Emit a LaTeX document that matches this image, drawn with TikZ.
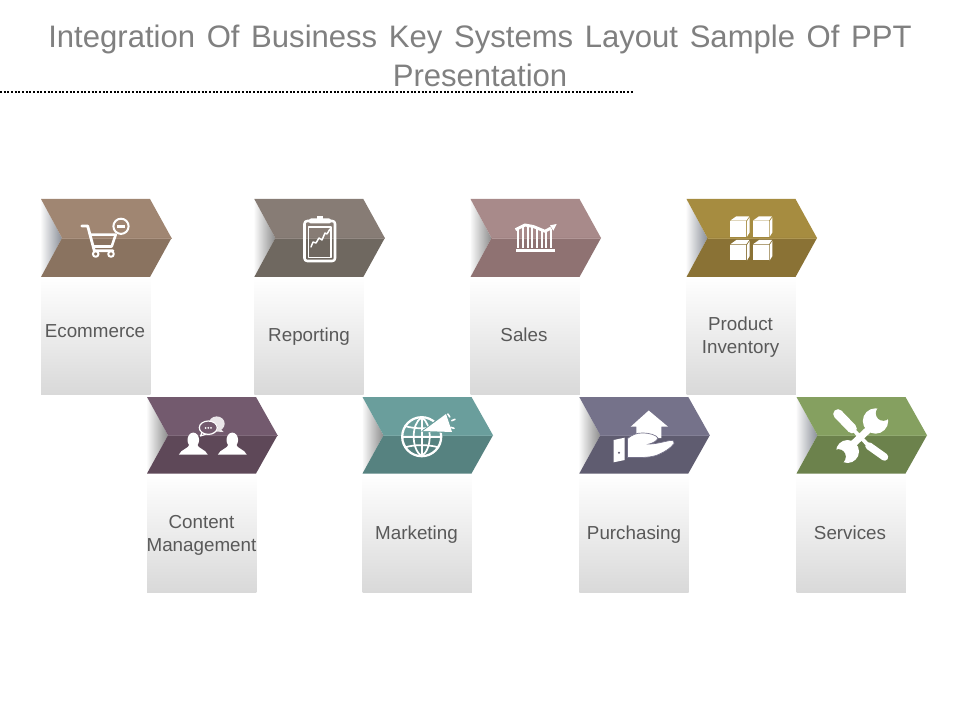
\documentclass[tikz,border=0pt]{standalone}
\usepackage{fontspec}
\setmainfont{Liberation Sans}
\newfontfamily\titlefont[WordSpace=1.35]{Liberation Sans}
\definecolor{titlegray}{HTML}{808080}
\definecolor{labelgray}{HTML}{595959}
\definecolor{ecoT}{HTML}{A08672}\definecolor{ecoB}{HTML}{8A7360}
\definecolor{repT}{HTML}{877C75}\definecolor{repB}{HTML}{6F6860}
\definecolor{salT}{HTML}{A88A8A}\definecolor{salB}{HTML}{8F7272}
\definecolor{proT}{HTML}{A68C40}\definecolor{proB}{HTML}{8A7235}
\definecolor{conT}{HTML}{735A6E}\definecolor{conB}{HTML}{5E4858}
\definecolor{marT}{HTML}{6A9E9C}\definecolor{marB}{HTML}{568280}
\definecolor{purT}{HTML}{75728A}\definecolor{purB}{HTML}{5F5C70}
\definecolor{serT}{HTML}{85A060}\definecolor{serB}{HTML}{6C824C}
\definecolor{notchA}{HTML}{8A8F98}\definecolor{notchB}{HTML}{8C8C8C}
\tikzset{
  labeltext/.style={text=labelgray,font=\fontsize{14.1}{17.25}\selectfont,align=center,inner sep=0pt},
  titletext/.style={text=titlegray,font=\titlefont\fontsize{23.3}{29.2}\selectfont,align=center,inner sep=0pt},
  ics/.style={draw=white,line width=#1,line cap=round,line join=round},
  ics/.default=1.2pt
}
\newcommand{\chevronbox}[6]{%
  \begin{scope}[shift={(#1,#2)}]
    \shade[top color=white,bottom color=black!15] (0,#3) rectangle (109.4,195.5);
    \shade[left color=black!2,right color=#6] (0,0) -- (21,#3/2) -- (0,#3) -- cycle;
    \fill[#4] (0,0) -- (109,0) -- (130.5,#3/2) -- (21,#3/2) -- cycle;
    \fill[#5] (0,#3) -- (109,#3) -- (130.5,#3/2) -- (21,#3/2) -- cycle;
    \draw[#4!90!white,line width=0.4pt] (21,#3/2) -- (130.5,#3/2);
  \end{scope}}
\newcommand{\cube}[2]{%
  \begin{scope}[shift={(#1,#2)}]
    \fill[white] (0,5) rectangle (15.7,20.5);
    \fill[white] (0,4.3) -- (6,0) -- (19,0) -- (15.9,4.3) -- cycle;
    \fill[white] (16.6,5.2) -- (19.4,1) -- (19.4,16) -- (16.6,20.5) -- cycle;
  \end{scope}}
\newcommand{\person}[1]{%
  \begin{scope}[shift={(#1,0)}]
    \fill[white] (0,440) ellipse [x radius=5.8,y radius=7.4];
    \fill[white] (-14.5,454.7) .. controls (-12,449) and (-5,449) .. (-3.5,444) -- (3.5,444) .. controls (5,449) and (12,449) .. (14.5,454.7) -- cycle;
  \end{scope}}
\begin{document}
\begin{tikzpicture}[x=0.75pt,y=-0.75pt]
\useasboundingbox (0,0) rectangle (960,720);
\fill[white] (0,0) rectangle (960,720);
% title
\node[titletext] (title) at (480,56) {Integration Of Business Key Systems Layout Sample Of PPT\\Presentation};
\coordinate (ruleL) at (0,92.5);
\coordinate (ruleR) at (634,92.5);
\draw[black,line width=1.5pt,dash pattern=on 1.5pt off 1.25pt] (ruleL) -- (ruleR);
% panels
\chevronbox{41}{199}{78}{ecoT}{ecoB}{notchA}
\chevronbox{254.3}{199}{78}{repT}{repB}{notchB}
\chevronbox{470.5}{199}{78}{salT}{salB}{notchB}
\chevronbox{686.5}{199}{78}{proT}{proB}{notchA}
\chevronbox{147}{397}{76.5}{conT}{conB}{notchB}
\chevronbox{362.5}{397}{76.5}{marT}{marB}{notchB}
\chevronbox{579.3}{397}{76.5}{purT}{purB}{notchB}
\chevronbox{796.5}{397}{76.5}{serT}{serB}{notchA}
% labels
\node[labeltext] (ecommerce) at (95,331) {Ecommerce};
\node[labeltext] (reporting) at (309,336.5) {Reporting};
\node[labeltext] (sales) at (524,335) {Sales};
\node[labeltext] (product) at (740.5,337) {Product\\Inventory};
\node[labeltext] (content) at (201.5,535.5) {Content\\Management};
\node[labeltext] (marketing) at (416.5,534.5) {Marketing};
\node[labeltext] (purchasing) at (634,534.5) {Purchasing};
\node[labeltext] (services) at (850,533) {Services};
% cart icon
\draw[ics=2.1pt] (81.7,226) -- (87.7,226) -- (94.3,250.8) -- (113,250.8);
\draw[ics=1.9pt] (90,234.7) -- (115.7,234.7) -- (111.7,246.5) -- (93.3,246.5);
\draw[ics=1.5pt] (95.7,254) circle (2.8) (111,254) circle (2.8);
\draw[ics=1.5pt] (121,226.3) circle (7.6);
\fill[white] (117.2,224.9) rectangle (124.8,227.7);
% clipboard icon
\draw[ics=1.9pt,rounded corners=2pt] (304.5,221) rectangle (335,261);
\draw[ics=0.9pt] (308.5,227) rectangle (331,257.5);
\fill[white,rounded corners=1.5pt] (309,218.5) rectangle (331,223.5);
\fill[white] (317,216) rectangle (323,219);
\draw[ics=1.1pt] (311,247) -- (313,242) -- (316,243) -- (319,238) -- (322,240) -- (325,233) -- (327,234) -- (330,229);
% sales icon
\fill[white] (516,249.2) rectangle (555,252.3);
\foreach \xx/\yy in {518.3/229,523/227,527.7/226,532.3/227,537/228,541.7/230,546.3/231,551/229}
  \draw[white,line width=1.6pt] (\xx,\yy) -- (\xx,248.3);
\draw[white,line width=2.2pt,line join=round] (515.5,229.7) -- (525,225) -- (533.3,226.5) -- (545,231.3) -- (551,228);
\fill[white] (556.7,224) -- (550,225.3) -- (553.3,230.7) -- cycle;
% cube icon
\cube{730.3}{216.3}
\cube{753}{216.3}
\cube{730.3}{240}
\cube{753}{240}
% content management icon
\fill[white!85!conT] (216.7,423.7) ellipse [x radius=8,y radius=7.3];
\fill[white!85!conT] (220,428) -- (223.5,432) -- (216,431.5) -- cycle;
\fill[conT] (208.3,427.7) ellipse [x radius=9.4,y radius=7];
\draw[ics=0.9pt] (208.3,427.7) ellipse [x radius=9,y radius=6.7];
\draw[ics=0.9pt] (202,432.3) -- (200.5,436) -- (206,434.2);
\fill[white] (205.6,427.9) circle (1) (208.3,427.9) circle (1) (211,427.9) circle (1);
\person{193.3}
\person{232.3}
% marketing icon
\draw[ics=1.7pt] (421.7,436.7) circle (19.5);
\draw[ics=1.3pt] (421.7,417.2) .. controls (411,424) and (411,449) .. (421.7,456.2);
\draw[ics=1.3pt] (421.7,417.2) .. controls (432.4,424) and (432.4,449) .. (421.7,456.2);
\draw[ics=1.3pt] (421.7,417.2) -- (421.7,456.2);
\draw[ics=1.3pt] (402.2,436.7) -- (441.2,436.7);
\draw[ics=1.3pt] (405,426) .. controls (414,429) and (429,429) .. (438.4,426);
\draw[ics=1.3pt] (405,447.4) .. controls (414,444.4) and (429,444.4) .. (438.4,447.4);
\fill[marT] (421,431.5) -- (445.5,412.5) -- (453.5,433.5) -- cycle;
\fill[white] (423,431) -- (446,414) -- (452,432) -- cycle;
\draw[ics=1.2pt] (447.8,414) -- (449.8,417);
\draw[ics=1.2pt] (451.7,420.7) -- (455,419.3);
\draw[ics=1.2pt] (450.7,427.3) -- (454,428.3);
% purchasing icon
\fill[white] (648.7,410.5) -- (668,426.7) -- (661.3,426.7) -- (661.3,438) -- (636.3,438) -- (636.3,426.7) -- (630.7,426.7) -- cycle;
\fill[white] (613.7,440) -- (624.7,437.7) -- (624.7,460) -- (613.7,462.3) -- cycle;
\fill[purB] (619,452.7) circle (1.1);
\filldraw[white,draw=purT,line width=0.5pt] (627.5,438.5) .. controls (632,435) and (636,433) .. (642,433) .. controls (650,433) and (656,435) .. (658,438) .. controls (657,441) and (652,443.5) .. (649,444) .. controls (657,444) and (664,441.5) .. (670,440.5) .. controls (673,440) and (675,441.5) .. (674,443.5) .. controls (671,448) and (663,453) .. (656,455.5) .. controls (648,458) and (638,457.5) .. (627.5,457.5) -- cycle;
% services icon
\fill[white] (875.5,421) circle (12.7);
\fill[serT] (883.3,413.3) circle (7.5);
\fill[white] (847.5,451.5) circle (11.5);
\fill[serB] (838.3,456.7) circle (7.5);
\draw[white,line width=5.2pt] (868,430) -- (853,444);
\draw[white,line width=7.2pt,line cap=round] (838,414) -- (852,428.5);
\draw[white,line width=2.8pt] (852,428.5) -- (870,447);
\draw[white,line width=5.6pt,line cap=round] (869,446) -- (884.5,457);
\end{tikzpicture}
\end{document}
